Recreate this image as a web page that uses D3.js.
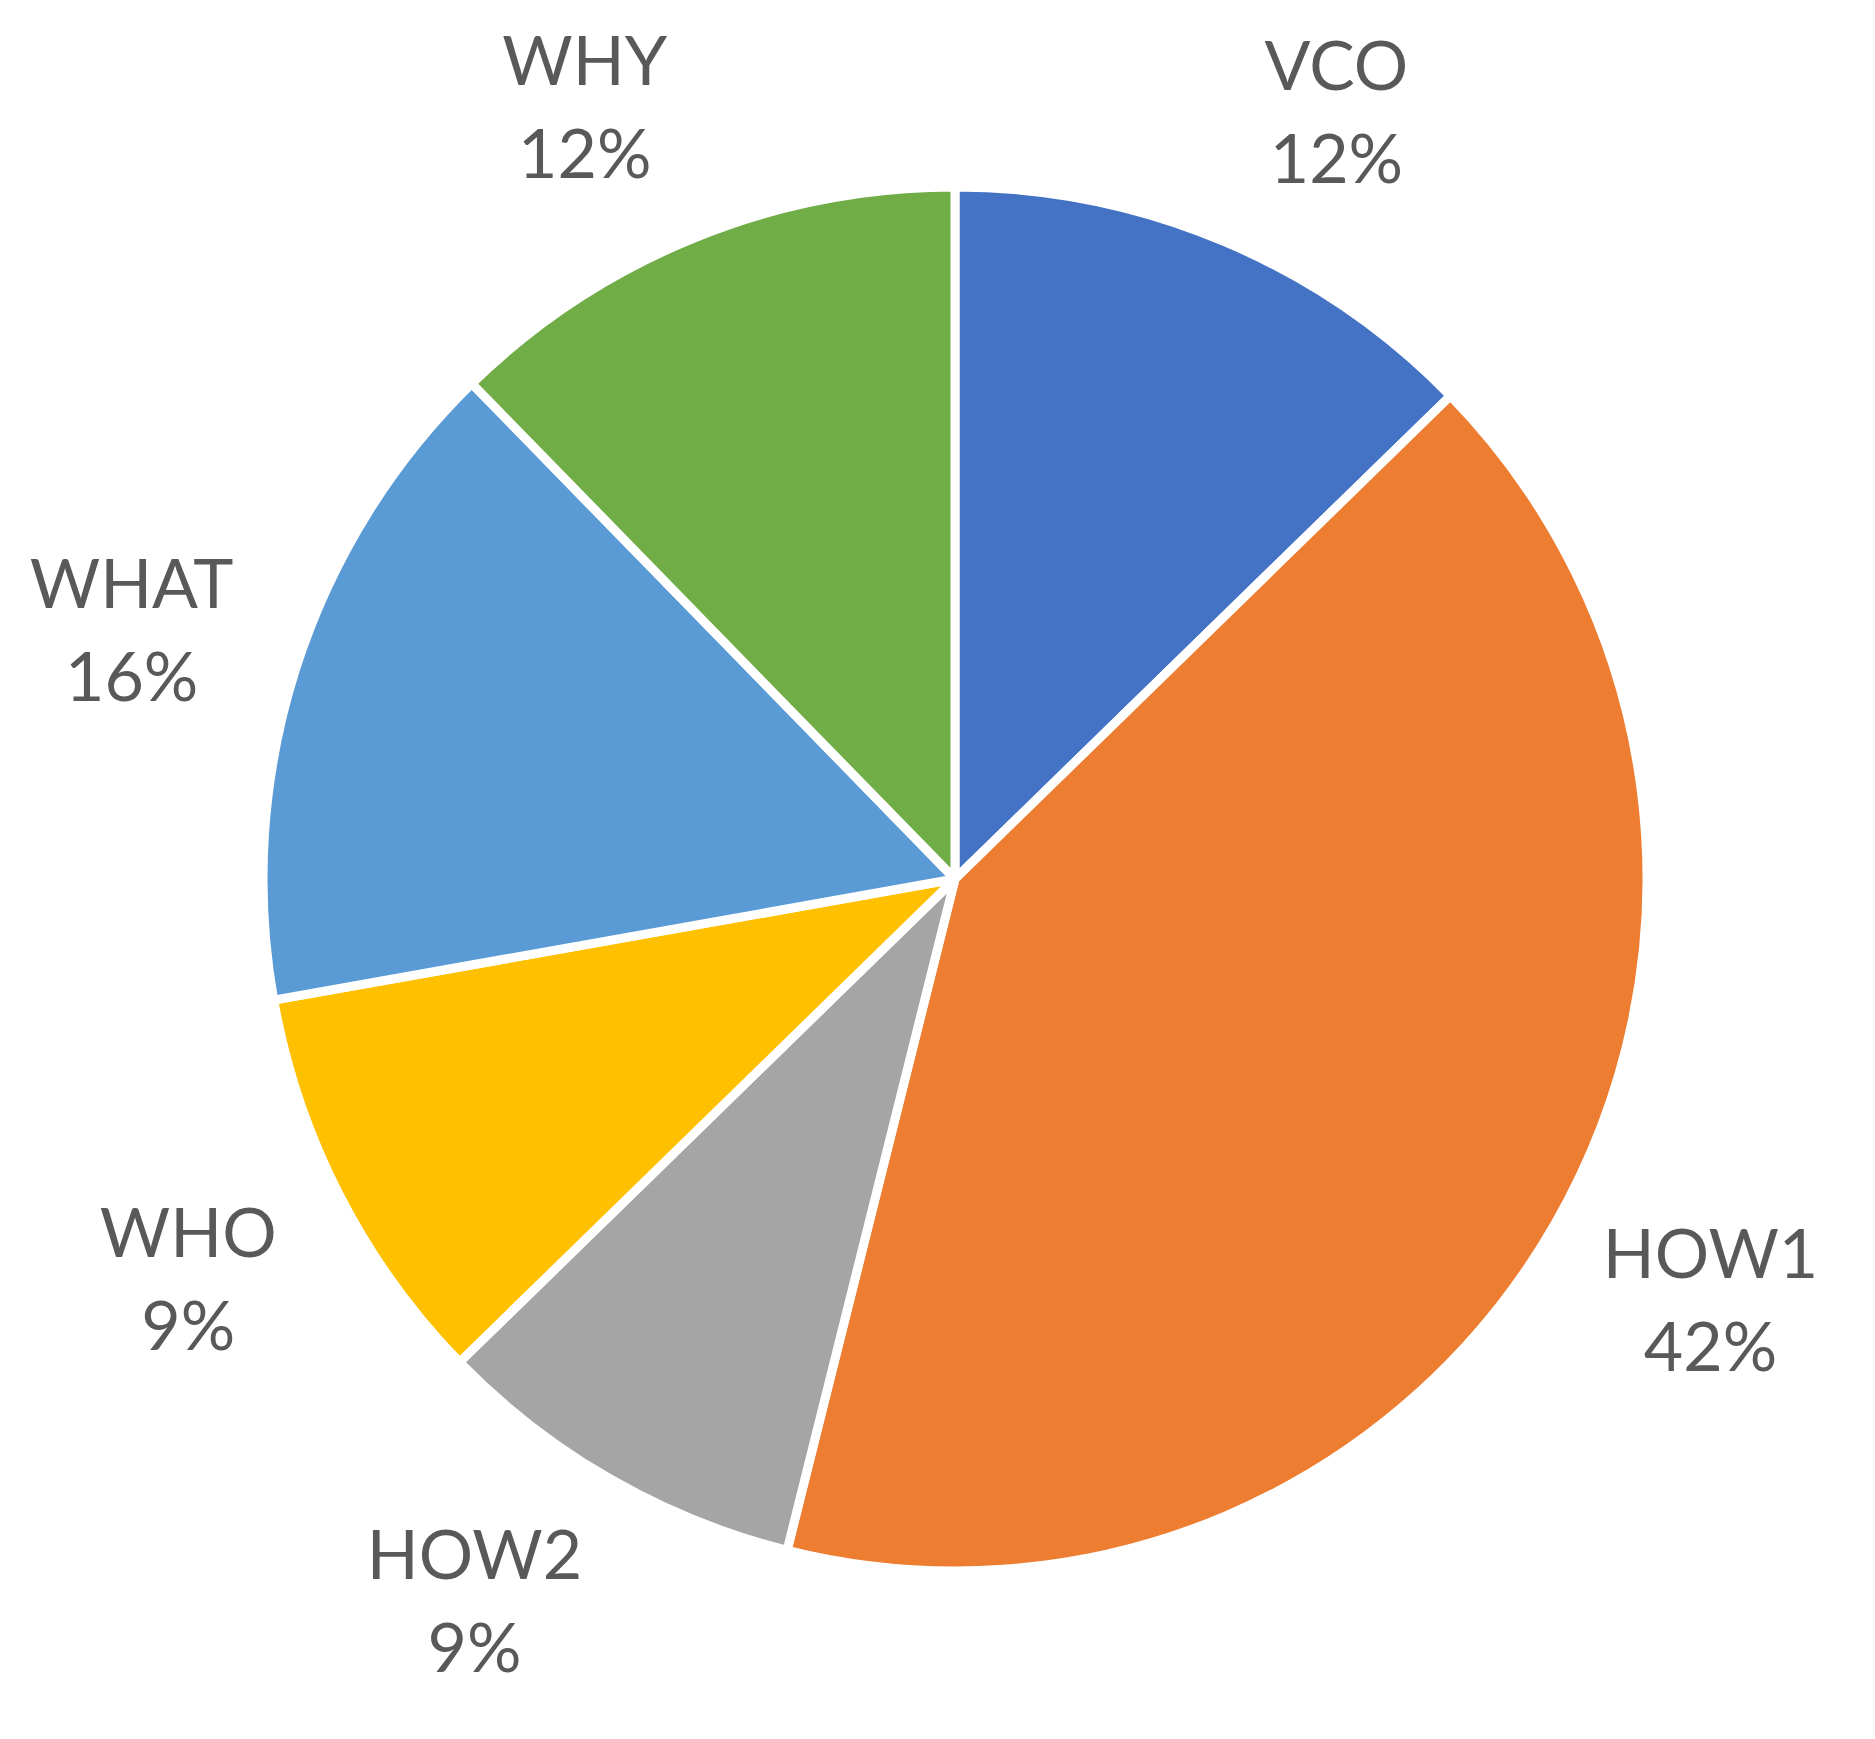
<!DOCTYPE html>
<html>
<head>
<meta charset="utf-8">
<script src="https://cdn.jsdelivr.net/npm/d3@7"></script>
<style>
  body { margin: 0; background: #ffffff; }
  svg { display: block; }
</style>
</head>
<body>
<svg id="drawing_region"></svg>
<script>
// slice order: clockwise from 12 o'clock
const categories = ['VCO', 'HOW1', 'HOW2', 'WHO', 'WHAT', 'WHY'];
// shares (percent of the circle)
const shares = [12.7, 41.2, 8.8, 9.5, 15.5, 12.3];
// data label text as printed on the chart
const percent_labels = ['12%', '42%', '9%', '9%', '16%', '12%'];

const data = categories.map( (c, i) => ({ label: c, value: shares[i], pct: percent_labels[i] }) );

class PieChart {

    constructor( config, data ) {
        this.config = {
            parent: config.parent,
            width: config.width || 256,
            height: config.height || 256,
            cx: config.cx,
            cy: config.cy,
            radius: config.radius || 100,
            label_radius: config.label_radius || 120,
            label_nudge: config.label_nudge || [],
            colors: config.colors
        }
        this.data = data;
        this.init();
    }

    init() {
        let self = this;

        self.svg = d3.select( self.config.parent )
            .attr('width', self.config.width)
            .attr('height', self.config.height);

        self.chart = self.svg.append('g')
            .attr('transform', `translate(${self.config.cx}, ${self.config.cy})`);

        self.color = d3.scaleOrdinal()
            .domain( self.data.map(d => d.label) )
            .range( self.config.colors );

        self.pie = d3.pie()
            .sort(null)
            .value(d => d.value);

        self.arc = d3.arc()
            .innerRadius(0)
            .outerRadius(self.config.radius);

        self.label_arc = d3.arc()
            .innerRadius(self.config.label_radius)
            .outerRadius(self.config.label_radius);
    }

    render() {
        let self = this;
        const arcs = self.pie( self.data );

        self.chart.selectAll('path')
            .data(arcs)
            .join('path')
            .attr('d', self.arc)
            .attr('fill', d => self.color(d.data.label))
            .attr('stroke', '#ffffff')
            .attr('stroke-width', 9)
            .attr('stroke-linejoin', 'round');

        // excel's "best fit" spreads the top labels a bit away from 12 o'clock
        const label_pos = (d, i) => {
            const shift = (self.config.label_nudge[i] || 0) * Math.PI / 180;
            return self.label_arc.centroid({ startAngle: d.startAngle + shift, endAngle: d.endAngle + shift });
        };

        const labels = self.chart.selectAll('text')
            .data(arcs)
            .join('text')
            .attr('transform', (d, i) => `translate(${label_pos(d, i)})`)
            .attr('text-anchor', 'middle')
            .attr('fill', '#595959')
            .style('font-family', 'Lato, sans-serif')
            .style('font-size', '68px');

        labels.append('tspan')
            .attr('x', 0)
            .attr('y', -16)
            .text(d => d.data.label);

        labels.append('tspan')
            .attr('x', 0)
            .attr('y', 77)
            .text(d => d.data.pct);
    }
}

const pie_chart = new PieChart({
    parent: '#drawing_region',
    width: 1875,
    height: 1739,
    cx: 955,
    cy: 879,
    radius: 692,
    label_radius: 862,
    label_nudge: [3.4, -1.1, 4, 0, -0.6, -3.3],
    colors: ['#4472C4', '#ED7D31', '#A5A5A5', '#FFC000', '#5B9BD5', '#70AD47']
}, data);
pie_chart.render();
</script>
</body>
</html>
